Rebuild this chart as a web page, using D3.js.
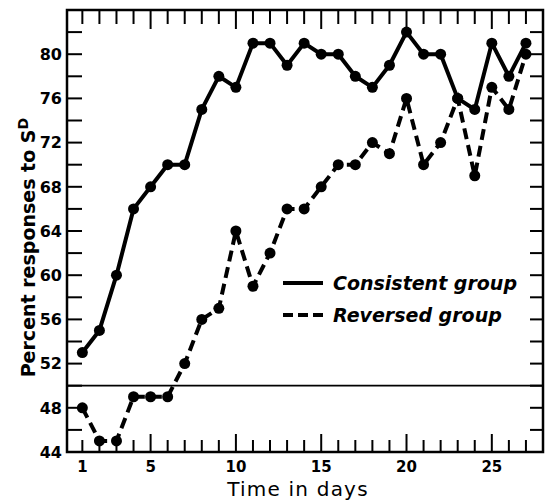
<!DOCTYPE html>
<html>
<head>
<meta charset="utf-8">
<script src="https://cdn.jsdelivr.net/npm/d3@7"></script>
<style>
  body { margin: 0; background: #fff; }
  svg { display: block; }
</style>
</head>
<body>
<svg id="chart"></svg>
<script>
// days on the x axis
const days = d3.range(1, 28);
// percent responses to S^D
const consistent = [53, 55, 60, 66, 68, 70, 70, 75, 78, 77, 81, 81, 79, 81, 80, 80, 78, 77, 79, 82, 80, 80, 76, 75, 81, 78, 81];
const reversed = [48, 45, 45, 49, 49, 49, 52, 56, 57, 64, 59, 62, 66, 66, 68, 70, 70, 72, 71, 76, 70, 72, 76, 69, 77, 75, 80];
const yLabels = [44, 48, 52, 56, 60, 64, 68, 72, 76, 80];
const xLabels = [1, 5, 10, 15, 20, 25];
const legendNames = ["Consistent group", "Reversed group"];

const W = 550, H = 501;
const margin = { top: 10, right: 7, bottom: 49, left: 67 };
const width = W - margin.left - margin.right;
const height = H - margin.top - margin.bottom;

const svg = d3.select("#chart").attr("width", W).attr("height", H);
const g = svg.append("g").attr("transform", `translate(${margin.left},${margin.top})`);

const x = d3.scaleLinear().domain([0.1, 28]).range([0, width]);
const y = d3.scaleLinear().domain([44, 84]).range([height, 0]);

const font = "'DejaVu Sans', sans-serif";

// y ticks every 2, inward on both sides
const yTicks = d3.range(44, 84, 2);
g.selectAll(".ytl").data(yTicks).enter().append("line")
  .attr("x1", 0).attr("x2", 15)
  .attr("y1", d => y(d)).attr("y2", d => y(d))
  .attr("stroke", "#000").attr("stroke-width", 2);
g.selectAll(".ytr").data(yTicks).enter().append("line")
  .attr("x1", width).attr("x2", width - 13)
  .attr("y1", d => y(d)).attr("y2", d => y(d))
  .attr("stroke", "#000").attr("stroke-width", 2);

// x ticks every day, longer at multiples of 5
g.selectAll(".xtb").data(days).enter().append("line")
  .attr("x1", d => x(d)).attr("x2", d => x(d))
  .attr("y1", height).attr("y2", d => height - (d % 5 === 0 ? 18 : 12))
  .attr("stroke", "#000").attr("stroke-width", 2);
g.selectAll(".xtt").data(days).enter().append("line")
  .attr("x1", d => x(d)).attr("x2", d => x(d))
  .attr("y1", 0).attr("y2", d => (d % 5 === 0 ? 19 : 14))
  .attr("stroke", "#000").attr("stroke-width", 2);

// tick labels
g.selectAll(".yl").data(yLabels).enter().append("text")
  .attr("x", -5).attr("y", d => y(d)).attr("dy", "0.36em")
  .attr("text-anchor", "end")
  .style("font-family", font).style("font-weight", "bold").style("font-size", "16px")
  .text(d => d);
g.selectAll(".xl").data(xLabels).enter().append("text")
  .attr("x", d => x(d)).attr("y", height + 20)
  .attr("text-anchor", "middle")
  .style("font-family", font).style("font-weight", "bold").style("font-size", "15px")
  .text(d => d);

// frame
g.append("rect").attr("width", width).attr("height", height)
  .attr("fill", "none").attr("stroke", "#000").attr("stroke-width", 2.5);

// 50% reference line
g.append("line")
  .attr("x1", 0).attr("x2", width)
  .attr("y1", y(50)).attr("y2", y(50))
  .attr("stroke", "#000").attr("stroke-width", 1.8);

const line = d3.line().x((d, i) => x(days[i])).y(d => y(d));

g.append("path").datum(reversed)
  .attr("d", line).attr("fill", "none")
  .attr("stroke", "#000").attr("stroke-width", 4)
  .attr("stroke-dasharray", "11,6");
g.selectAll(".dr").data(reversed).enter().append("circle")
  .attr("cx", (d, i) => x(days[i])).attr("cy", d => y(d)).attr("r", 5.5);

g.append("path").datum(consistent)
  .attr("d", line).attr("fill", "none")
  .attr("stroke", "#000").attr("stroke-width", 4)
  .attr("stroke-linejoin", "round");
g.selectAll(".dc").data(consistent).enter().append("circle")
  .attr("cx", (d, i) => x(days[i])).attr("cy", d => y(d)).attr("r", 5.5);

// legend
const legend = g.append("g").attr("transform", `translate(${283 - margin.left},${283 - margin.top})`);
legend.append("line").attr("x1", 0).attr("x2", 40).attr("y1", 0).attr("y2", 0)
  .attr("stroke", "#000").attr("stroke-width", 4);
legend.append("line").attr("x1", 0).attr("x2", 40).attr("y1", 32).attr("y2", 32)
  .attr("stroke", "#000").attr("stroke-width", 4).attr("stroke-dasharray", "10,5");
legend.selectAll("text").data(legendNames).enter().append("text")
  .attr("x", 50).attr("y", (d, i) => i * 32).attr("dy", "0.35em")
  .style("font-family", font).style("font-style", "italic").style("font-weight", "bold")
  .style("font-size", "19px")
  .text(d => d);

// axis titles
g.append("text")
  .attr("x", width / 2 - 7).attr("y", height + 44)
  .attr("text-anchor", "middle")
  .style("font-family", font).style("font-size", "20px").style("letter-spacing", "1.2px")
  .text("Time in days");

const yt = g.append("text")
  .attr("transform", `translate(${-32},${y(62.5)}) rotate(-90)`)
  .attr("text-anchor", "middle")
  .style("font-family", font).style("font-weight", "bold").style("font-size", "19px");
yt.append("tspan").text("Percent responses to S");
yt.append("tspan").attr("dy", "-0.5em").style("font-size", "14px").text("D");
</script>
</body>
</html>
